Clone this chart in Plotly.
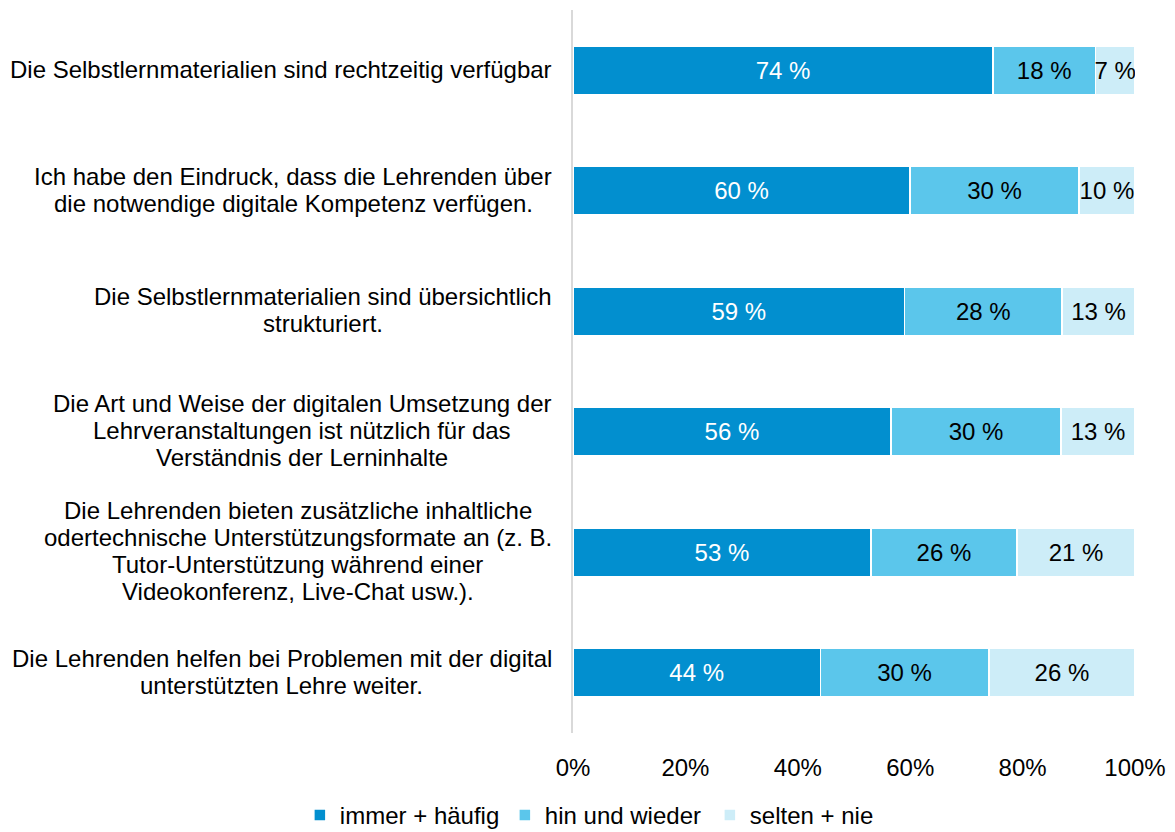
import plotly.graph_objects as go

categories = [
    ["Die Selbstlernmaterialien sind rechtzeitig verfügbar"],
    ["Ich habe den Eindruck, dass die Lehrenden über", "die notwendige digitale Kompetenz verfügen."],
    ["Die Selbstlernmaterialien sind übersichtlich", "strukturiert."],
    ["Die Art und Weise der digitalen Umsetzung der", "Lehrveranstaltungen ist nützlich für das", "Verständnis der Lerninhalte"],
    ["Die Lehrenden bieten zusätzliche inhaltliche", "odertechnische Unterstützungsformate an (z. B.",
     "Tutor-Unterstützung während einer", "Videokonferenz, Live-Chat usw.)."],
    ["Die Lehrenden helfen bei Problemen mit der digital", "unterstützten Lehre weiter."],
]
cat_ids = ["c1", "c2", "c3", "c4", "c5", "c6"]
immer_haeufig = [74, 60, 59, 56, 53, 44]
hin_und_wieder = [18, 30, 28, 30, 26, 30]
selten_nie = [7, 10, 13, 13, 21, 26]
series_names = ["immer + häufig", "hin und wieder", "selten + nie"]
series_colors = ["#028fcf", "#5bc6eb", "#cdedf8"]
text_colors = ["white", "black", "black"]
tick_vals = [0, 20, 40, 60, 80, 100]
tick_text = ["0%", "20%", "40%", "60%", "80%", "100%"]

FONT = "Liberation Sans, Arial, sans-serif"
FS = 24
LINE_H = 27
LABEL_GAP = 21

# Arial / Liberation Sans advance widths (per 1000 em) used to centre multi-line labels
_W = {" ": 278, "!": 278, "(": 333, ")": 333, "+": 584, ",": 278, "-": 333, ".": 278, "%": 889,
      "A": 667, "B": 667, "C": 722, "D": 722, "E": 667, "F": 611, "G": 778, "H": 722, "I": 278,
      "J": 500, "K": 667, "L": 556, "M": 833, "N": 722, "O": 778, "P": 667, "Q": 778, "R": 722,
      "S": 667, "T": 611, "U": 722, "V": 667, "W": 944, "X": 667, "Y": 667, "Z": 611,
      "a": 556, "b": 556, "c": 500, "d": 556, "e": 556, "f": 278, "g": 556, "h": 556, "i": 222,
      "j": 222, "k": 500, "l": 222, "m": 833, "n": 556, "o": 556, "p": 556, "q": 556, "r": 333,
      "s": 500, "t": 278, "u": 556, "v": 500, "w": 722, "x": 500, "y": 500, "z": 500,
      "ä": 556, "ö": 556, "ü": 556, "ß": 611, "Ä": 667, "Ö": 778, "Ü": 722}


def text_width(s, size):
    return sum(_W.get(ch, 556) for ch in s) * size / 1000.0


fig = go.Figure()
for name, vals, col, tcol in zip(series_names, [immer_haeufig, hin_und_wieder, selten_nie], series_colors, text_colors):
    fig.add_trace(go.Bar(
        y=cat_ids, x=vals, name=name, orientation="h",
        marker=dict(color=col, line=dict(color="white", width=1.5)),
        text=vals, texttemplate="%{text} %", textposition="inside",
        insidetextanchor="middle", textangle=0,
        textfont=dict(color=tcol, size=FS, family=FONT),
    ))

for cid, lines in zip(cat_ids, categories):
    n = len(lines)
    block_w = max(text_width(l, FS) for l in lines)
    for i, line in enumerate(lines):
        fig.add_annotation(
            x=0, xref="paper", y=cid, yref="y", xanchor="center",
            xshift=-(LABEL_GAP + block_w / 2),
            yshift=((n - 1) / 2 - i) * LINE_H + 1,
            text=line, showarrow=False, align="center",
            font=dict(size=FS, family=FONT, color="black"),
        )

fig.update_layout(
    width=1175, height=832,
    barmode="stack", barnorm="percent", bargap=0.6,
    plot_bgcolor="white", paper_bgcolor="white",
    margin=dict(l=565, r=48, t=2, b=99),
    font=dict(family=FONT, size=FS, color="black"),
    uniformtext=dict(minsize=FS, mode="show"),
    showlegend=True,
    legend=dict(orientation="h", x=-0.486, xanchor="left",
                y=-0.114, yanchor="middle",
                font=dict(size=FS, family=FONT), entrywidth=160, traceorder="normal",
                itemwidth=30),
)
fig.update_xaxes(range=[0, 100], tickvals=tick_vals, ticktext=tick_text, showgrid=False,
                 zeroline=False, showline=False, tickfont=dict(size=FS, family=FONT),
                 ticklabelstandoff=18)
fig.update_yaxes(autorange="reversed", showticklabels=False, showline=True,
                 linecolor="#d9d9d9", linewidth=2, showgrid=False, ticks="")

fig.write_html("out.html")
